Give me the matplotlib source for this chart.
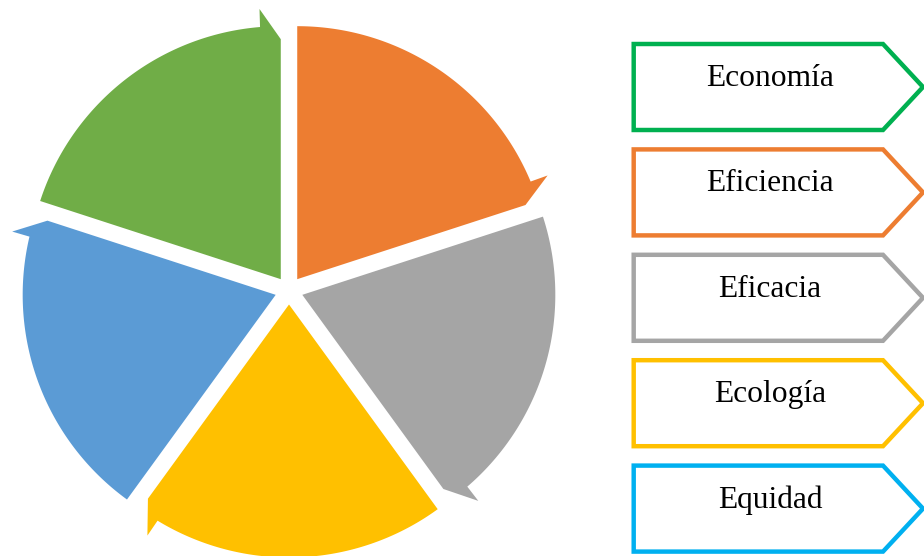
import numpy as np
import matplotlib
matplotlib.use('Agg')
import matplotlib.pyplot as plt
from matplotlib.patches import Polygon

# cycle segments, clockwise from the top
segment_names = ['Eficiencia', 'Eficacia', 'Ecología', 'Equidad', 'Economía']
segment_values = [1, 1, 1, 1, 1]
segment_colors = ['#ED7D31', '#A5A5A5', '#FFC000', '#5B9BD5', '#70AD47']

# arrow boxes on the right, top to bottom
box_labels = ['Economía', 'Eficiencia', 'Eficacia', 'Ecología', 'Equidad']
box_colors = ['#00B050', '#ED7D31', '#A5A5A5', '#FFC000', '#00B0F0']

W, H = 924, 556
fig = plt.figure(figsize=(W / 100, H / 100), dpi=100)
ax = fig.add_axes([0, 0, 1, 1])
ax.set_xlim(0, W)
ax.set_ylim(H, 0)
ax.axis('off')

cx, cy = 289.0, 290.5
radius = 253.0
explode = 14.0
barb_r, tip_r, barb_da = 271.0, 240.0, 4.7


def polar(x0, y0, r, deg):
    a = np.radians(deg)
    return x0 + r * np.cos(a), y0 - r * np.sin(a)


total = float(sum(segment_values))
start = 90.0
for val, color in zip(segment_values, segment_colors):
    sweep = 360.0 * val / total
    end = start - sweep
    mid = (start + end) / 2
    ax0, ay0 = polar(cx, cy, explode, mid)

    pts = [(ax0, ay0)]
    for a in np.linspace(start, end + barb_da, 120):
        pts.append(polar(ax0, ay0, radius, a))
    pts.append(polar(ax0, ay0, barb_r, end + barb_da - 0.2))
    pts.append(polar(ax0, ay0, tip_r, end))
    ax.add_patch(Polygon(pts, closed=True, facecolor=color, edgecolor='none'))
    start = end

# pentagon arrow boxes
left, body_right, tip_x = 633.7, 883.0, 923.0
top0, step, height = 44.0, 105.4, 86.0
for i, (lab, col) in enumerate(zip(box_labels, box_colors)):
    top = top0 + i * step
    bot = top + height
    pts = [(left, top), (body_right, top), (tip_x, (top + bot) / 2),
           (body_right, bot), (left, bot)]
    ax.add_patch(Polygon(pts, closed=True, facecolor='white', edgecolor=col,
                         linewidth=3.2, joinstyle='miter'))
    ax.text(770, top + 42, lab, ha='center', va='baseline',
            fontsize=22.7, family='Liberation Serif', color='black')

fig.savefig('out.png', dpi=100)
